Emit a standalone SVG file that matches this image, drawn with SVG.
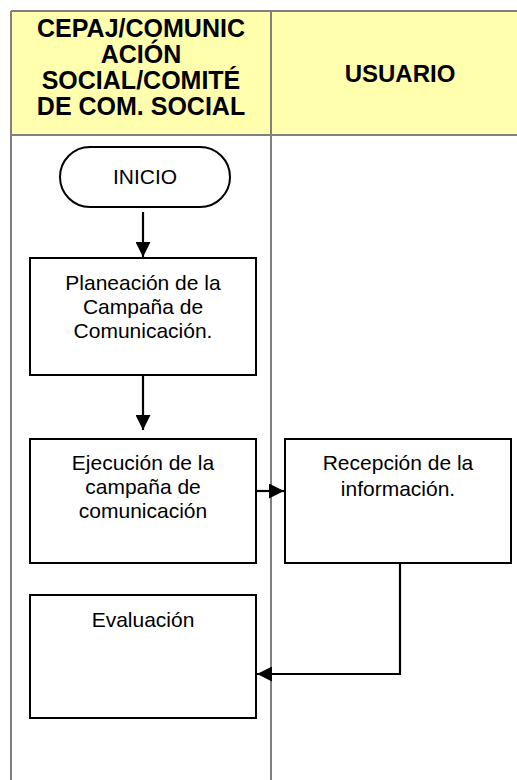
<svg xmlns="http://www.w3.org/2000/svg" width="517" height="780" viewBox="0 0 517 780">
<style>
.grid{stroke:#808080;stroke-width:2;fill:none}
.box{fill:#fff;stroke:#000;stroke-width:2}
.t{font-family:"Liberation Sans",Arial,sans-serif;font-size:21px;fill:#000;text-anchor:middle}
.h{font-family:"Liberation Sans",Arial,sans-serif;font-size:25px;font-weight:bold;fill:#000;text-anchor:middle}
.c{stroke:#000;stroke-width:2.2;fill:none}
</style>
<defs>
<marker id="ah" viewBox="0 0 10 10" refX="10" refY="5" markerWidth="15" markerHeight="15" markerUnits="userSpaceOnUse" orient="auto">
<path d="M0,0 L10,5 L0,10 Z" fill="#000"/>
</marker>
</defs>
<rect width="517" height="780" fill="#fff"/>
<g id="table">
<rect x="11" y="11" width="520" height="124" fill="#ffffae"/>
<path class="grid" d="M11,11 H517 M11,135 H517 M11,11 V780 M271,11 V780"/>
<text class="h" x="141" y="37">CEPAJ/COMUNIC</text>
<text class="h" x="141" y="63">ACIÓN</text>
<text class="h" x="141" y="89">SOCIAL/COMITÉ</text>
<text class="h" x="141" y="115">DE COM. SOCIAL</text>
<text class="h" x="400" y="82" style="font-size:24px">USUARIO</text>
</g>
<g id="connectors">
<path class="c" d="M143,212 V257" marker-end="url(#ah)"/>
<path class="c" d="M143,375 V430" marker-end="url(#ah)"/>
<path class="c" d="M256,491 H284" marker-end="url(#ah)"/>
<path class="c" d="M400,563 V674 H257" marker-end="url(#ah)"/>
</g>
<g id="inicio">
<rect class="box" x="60" y="147" width="170" height="60" rx="30" ry="30"/>
<text class="t" x="145" y="184">INICIO</text>
</g>
<g id="planeacion">
<rect class="box" x="30" y="258" width="226" height="117"/>
<text class="t" x="143" y="290">Planeación de la</text>
<text class="t" x="143" y="314">Campaña de</text>
<text class="t" x="143" y="338">Comunicación.</text>
</g>
<g id="ejecucion">
<rect class="box" x="30" y="439" width="226" height="124"/>
<text class="t" x="143" y="470">Ejecución de la</text>
<text class="t" x="143" y="494">campaña de</text>
<text class="t" x="143" y="518">comunicación</text>
</g>
<g id="recepcion">
<rect class="box" x="285" y="439" width="226" height="124"/>
<text class="t" x="398" y="470">Recepción de la</text>
<text class="t" x="398" y="496">información.</text>
</g>
<g id="evaluacion">
<rect class="box" x="30" y="595" width="226" height="123"/>
<text class="t" x="143" y="627">Evaluación</text>
</g>
</svg>
